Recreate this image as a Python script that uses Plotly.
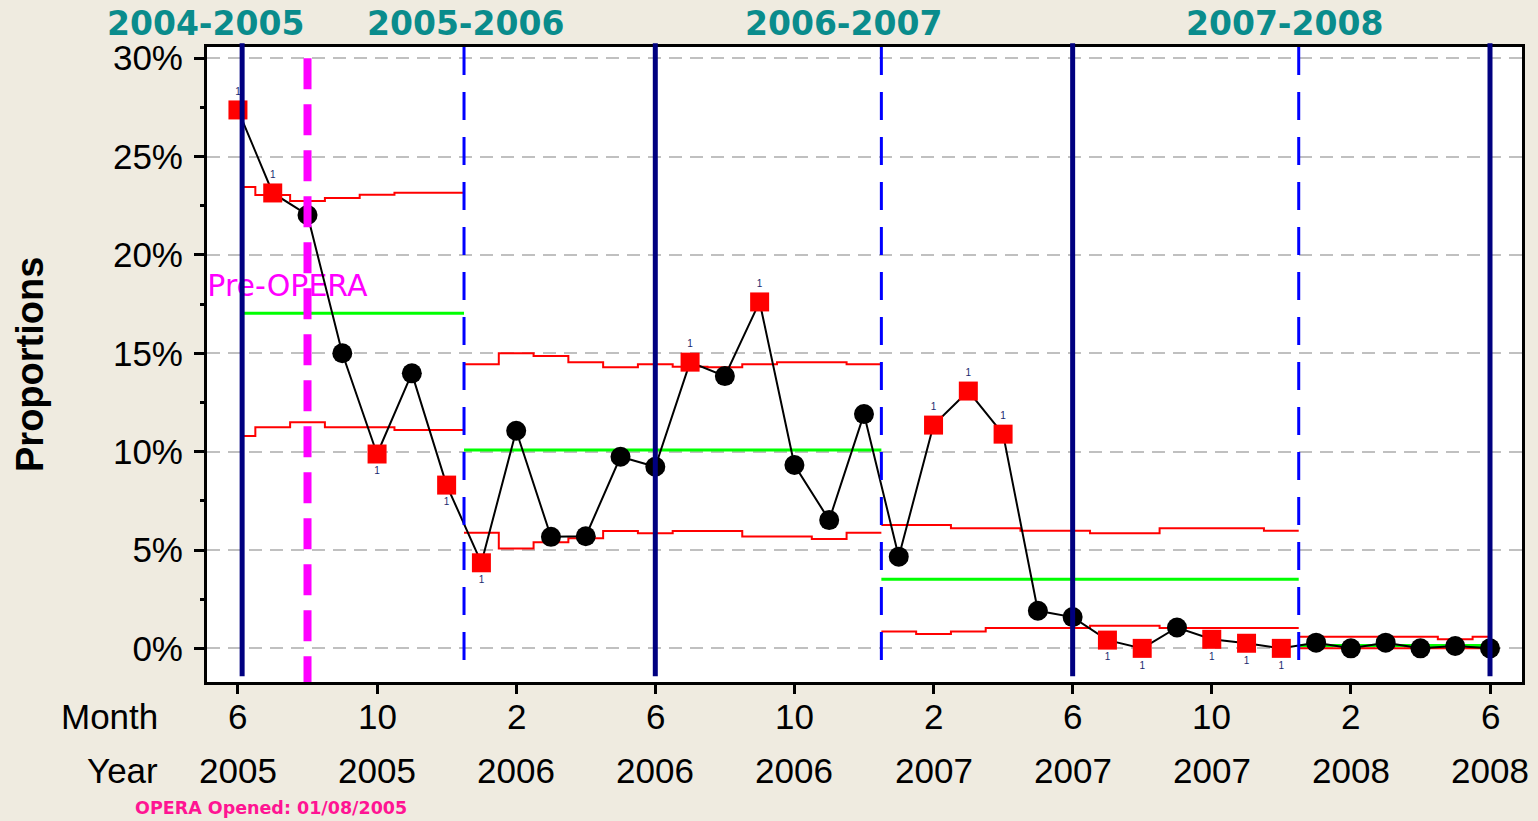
import plotly.graph_objects as go

# ---------------- data ----------------
months = list(range(37))  # 0 = June 2005 ... 36 = June 2008
proportions = [27.37, 23.15, 22.03, 15.00, 9.88, 13.98, 8.30,
               4.35, 11.06, 5.67, 5.70, 9.74, 9.23, 14.55, 13.84, 17.61, 9.32, 6.52, 11.91,
               4.66, 11.35, 13.08, 10.89, 1.91, 1.59, 0.42, 0.00, 1.06, 0.46, 0.26, 0.00,
               0.29, 0.00, 0.29, 0.00, 0.12, 0.00]
ucl = [23.45, 23.05, 22.74, 22.89, 23.06, 23.16, 23.16,
       14.44, 15.00, 14.86, 14.55, 14.29, 14.44, 14.32, 14.29, 14.44, 14.55, 14.55, 14.44,
       6.27, 6.27, 6.10, 6.10, 5.98, 5.98, 5.85, 5.85, 6.10, 6.10, 6.10, 5.98,
       0.59, 0.59, 0.59, 0.59, 0.46, 0.59]
lcl = [10.79, 11.24, 11.49, 11.24, 11.24, 11.10, 11.10,
       5.88, 5.08, 5.40, 5.60, 5.96, 5.85, 5.96, 5.96, 5.69, 5.69, 5.56, 5.88,
       0.86, 0.73, 0.86, 1.03, 1.03, 1.03, 1.15, 1.15, 1.03, 1.03, 1.03, 1.03,
       0.00, 0.00, 0.00, 0.00, 0.00, 0.00]
phase_first = [0, 7, 19, 31]
phase_last = [6, 18, 30, 36]
centre = [17.03, 10.08, 3.51, 0.15]
fiscal_labels = ["2004-2005", "2005-2006", "2006-2007", "2007-2008"]
tick_months = [0, 4, 8, 12, 16, 20, 24, 28, 32, 36]
month_labels = ["6", "10", "2", "6", "10", "2", "6", "10", "2", "6"]
year_labels = ["2005", "2005", "2006", "2006", "2006", "2007", "2007", "2007", "2008", "2008"]
y_ticks = [0, 5, 10, 15, 20, 25, 30]
y_tick_labels = ["0%", "5%", "10%", "15%", "20%", "25%", "30%"]
year_marks = [0, 12, 24, 36]          # solid navy lines
fiscal_breaks = [6.5, 18.5, 30.5]      # dashed blue lines
opera_open = 2                         # August 2005

# ---------------- figure ----------------
fig = go.Figure()

# Pre-OPERA text (under the data)
fig.add_trace(go.Scatter(x=[-0.88], y=[18.3], mode="text", text=["Pre-OPERA"],
                         textposition="middle right", cliponaxis=False,
                         textfont=dict(family="DejaVu Sans", size=30, color="#FF00FF"),
                         showlegend=False, hoverinfo="skip"))

starts = [0.12, 6.5, 18.5, 30.5]
ends = [6.5, 18.5, 30.5, 36]
for p in range(4):
    a, b = phase_first[p], phase_last[p]
    xs = [starts[p]] + [m + 0.5 for m in range(a, b)] + [ends[p]]
    for lim in (ucl, lcl):
        ys = lim[a:b + 1] + [lim[b]]
        fig.add_trace(go.Scatter(x=xs, y=ys, mode="lines", line=dict(color="#FF0000", width=2, shape="hv"),
                                 showlegend=False, hoverinfo="skip"))
    fig.add_trace(go.Scatter(x=[starts[p], ends[p]], y=[centre[p], centre[p]], mode="lines",
                             line=dict(color="#00FF00", width=3), showlegend=False, hoverinfo="skip"))

# data line
fig.add_trace(go.Scatter(x=months, y=proportions, mode="lines", line=dict(color="black", width=2),
                         showlegend=False))

sig_x, sig_y, sig_pos, ok_x, ok_y = [], [], [], [], []
for m, v in zip(months, proportions):
    if v > ucl[m]:
        sig_x.append(m); sig_y.append(v); sig_pos.append("top center")
    elif v < lcl[m]:
        sig_x.append(m); sig_y.append(v); sig_pos.append("bottom center")
    else:
        ok_x.append(m); ok_y.append(v)

fig.add_trace(go.Scatter(x=ok_x, y=ok_y, mode="markers",
                         marker=dict(symbol="circle", size=20, color="black"), showlegend=False))
fig.add_trace(go.Scatter(x=sig_x, y=sig_y, mode="markers+text", text=["1"] * len(sig_x),
                         textposition=sig_pos,
                         textfont=dict(family="Liberation Sans", size=10, color="#1A2A70"),
                         marker=dict(symbol="square", size=19, color="#FF0000"), showlegend=False))

# vertical reference lines
for xm in year_marks:
    xv = xm + (0.12 if xm == 0 else 0)
    fig.add_shape(type="line", xref="x", yref="paper", x0=xv, x1=xv,
                  y0=0.009, y1=1.006, line=dict(color="#000080", width=5), layer="above")
for xb in fiscal_breaks:
    fig.add_shape(type="line", xref="x", yref="paper", x0=xb, x1=xb, y0=1.0, y1=0.018,
                  line=dict(color="#0000FF", width=3, dash="28px,17px"), layer="above")
fig.add_shape(type="line", xref="x", yref="y", x0=opera_open, x1=opera_open, y0=30, y1=-1.71,
              line=dict(color="#FF00FF", width=8, dash="31px,15px"), layer="above")

# annotations
PLOT_L, PLOT_W, PLOT_B, PLOT_H = 207, 1315, 682, 635
def px(xpix):
    return (xpix - PLOT_L) / PLOT_W
def py(ypix):
    return (PLOT_B - ypix) / PLOT_H

fy_centres = [205, 465, 843, 1284]
for lab, xc in zip(fiscal_labels, fy_centres):
    fig.add_annotation(x=px(xc), xref="paper", y=py(24), yref="paper", text=lab, showarrow=False,
                       xanchor="center", yanchor="middle",
                       font=dict(family="DejaVu Sans", size=33, color="#0A8C8C", weight="bold"))
for xm, mlab, ylab in zip(tick_months, month_labels, year_labels):
    fig.add_annotation(x=xm, xref="x", y=py(717), yref="paper", text=mlab, showarrow=False,
                       xanchor="center", yanchor="middle",
                       font=dict(family="Liberation Sans", size=35, color="black"))
    fig.add_annotation(x=xm, xref="x", y=py(770), yref="paper", text=ylab, showarrow=False,
                       xanchor="center", yanchor="middle",
                       font=dict(family="Liberation Sans", size=35, color="black"))
fig.add_annotation(x=px(160), xref="paper", y=py(717), yref="paper", text="Month", showarrow=False,
                   xanchor="right", yanchor="middle", font=dict(family="Liberation Sans", size=35, color="black"))
fig.add_annotation(x=px(160), xref="paper", y=py(770), yref="paper", text="Year", showarrow=False,
                   xanchor="right", yanchor="middle", font=dict(family="Liberation Sans", size=35, color="black"))
fig.add_annotation(x=px(30), xref="paper", y=py(365), yref="paper", text="Proportions", showarrow=False,
                   textangle=-90, xanchor="center", yanchor="middle",
                   font=dict(family="Liberation Sans", size=38, color="black", weight="bold"))
fig.add_annotation(x=px(133), xref="paper", y=py(808), yref="paper", text="OPERA Opened: 01/08/2005",
                   showarrow=False, xanchor="left", yanchor="middle",
                   font=dict(family="DejaVu Sans", size=17.5, color="#FF1493", weight="bold"))

fig.update_layout(
    width=1538, height=821,
    margin=dict(l=207, r=16, t=47, b=139),
    paper_bgcolor="#EFEBE0", plot_bgcolor="white",
    showlegend=False,
    xaxis=dict(range=[-0.89, 36.92], tickvals=tick_months, showticklabels=False,
               ticks="outside", ticklen=9, tickwidth=3, tickcolor="black",
               showgrid=False, zeroline=False, showline=True, linecolor="black", linewidth=3, mirror=True),
    yaxis=dict(range=[-1.71, 30.57], tickvals=y_ticks, ticktext=y_tick_labels,
               ticks="outside", ticklen=10, tickwidth=3, tickcolor="black", ticklabelstandoff=4,
               tickfont=dict(family="Liberation Sans", size=35, color="black"),
               minor=dict(dtick=2.5, tick0=0, ticks="outside", ticklen=4, tickwidth=3, tickcolor="black", showgrid=False),
               showgrid=True, gridcolor="#C0C0C0", gridwidth=2, griddash="13px,8px",
               zeroline=False, showline=True, linecolor="black", linewidth=3, mirror=True),
)

fig.write_html("out.html", config={"displayModeBar": False},
               post_script="document.body.style.margin='0';document.body.style.background='#EFEBE0';")
